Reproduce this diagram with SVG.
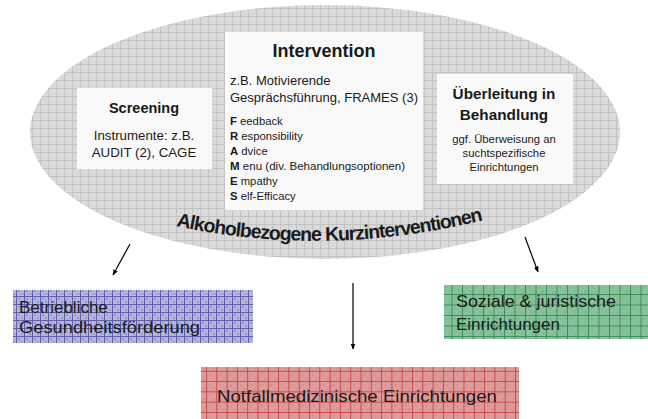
<svg xmlns="http://www.w3.org/2000/svg" width="648" height="419" viewBox="0 0 648 419">
<defs>
<pattern id="pGray" patternUnits="userSpaceOnUse" width="8" height="8">
<rect width="8" height="8" fill="#dadada"/>
<rect x="2" y="2" width="1" height="1" fill="#cfcfcf"/><rect x="5" y="5" width="1" height="1" fill="#cfcfcf"/>
<path d="M0 0.5H8M0.5 0V8" stroke="#c2c2c2" stroke-width="1"/>
</pattern>
<pattern id="pBlue" patternUnits="userSpaceOnUse" width="8" height="8">
<rect width="8" height="8" fill="#b4b4dd"/>
<rect x="2" y="2" width="2" height="2" fill="#9a9acc"/><rect x="5" y="5" width="2" height="2" fill="#9a9acc"/>
<path d="M0 0.5H8M0.5 0V8" stroke="#5e5eaa" stroke-width="1"/>
</pattern>
<pattern id="pGreen" patternUnits="userSpaceOnUse" width="10.5" height="10.5">
<rect width="10.5" height="10.5" fill="#86c39b"/>
<rect x="3" y="3" width="2" height="2" fill="#78b48d"/><rect x="7" y="7" width="2" height="2" fill="#78b48d"/>
<path d="M0 0.5H10.5M0.5 0V10.5" stroke="#3d8b5a" stroke-width="1"/>
</pattern>
<pattern id="pRed" patternUnits="userSpaceOnUse" width="10.3" height="10.3">
<rect width="10.3" height="10.3" fill="#e09b9b"/>
<rect x="3" y="3" width="2" height="2" fill="#d48b8b"/><rect x="7" y="7" width="2" height="2" fill="#d48b8b"/>
<path d="M0 0.5H10.3M0.5 0V10.3" stroke="#c24a4c" stroke-width="1"/>
</pattern>
<marker id="arr" viewBox="0 0 10 10" refX="9" refY="5" markerWidth="6" markerHeight="6" orient="auto" markerUnits="userSpaceOnUse">
<path d="M0 1L10 5L0 9Z" fill="#000"/>
</marker>
<path id="arc" d="M176 226 Q326 258 480 221"/>
</defs>
<style>
text{font-family:"Liberation Sans",Arial,sans-serif;fill:#1a1a1a}
.b{font-weight:bold}
.wbox{fill:#f9f9f9}
.conn{stroke:#000;stroke-width:1.2;fill:none;marker-end:url(#arr)}
</style>
<g id="ellipse">
<ellipse cx="325" cy="132" rx="295" ry="127" fill="url(#pGray)"/>
<text class="b" font-size="19.5" letter-spacing="-1.05"><textPath href="#arc">Alkoholbezogene Kurzinterventionen</textPath></text>
</g>
<g id="screening">
<rect class="wbox" x="77" y="88" width="135" height="81"/>
<text class="b" x="144" y="113" font-size="14.5" text-anchor="middle">Screening</text>
<text x="144" y="140" font-size="13.3" text-anchor="middle">Instrumente: z.B.</text>
<text x="144" y="157" font-size="13.3" text-anchor="middle">AUDIT (2), CAGE</text>
</g>
<g id="intervention">
<rect class="wbox" x="225" y="32" width="198" height="178"/>
<text class="b" x="324" y="57" font-size="18" text-anchor="middle">Intervention</text>
<text x="230" y="85" font-size="13">z.B. Motivierende</text>
<text x="230" y="102" font-size="13" textLength="188" lengthAdjust="spacingAndGlyphs">Gesprächsführung, FRAMES (3)</text>
<text x="230" y="125" font-size="11.3"><tspan class="b">F</tspan> eedback</text>
<text x="230" y="140" font-size="11.3"><tspan class="b">R</tspan> esponsibility</text>
<text x="230" y="155" font-size="11.3"><tspan class="b">A</tspan> dvice</text>
<text x="230" y="170" font-size="11.3" textLength="175" lengthAdjust="spacingAndGlyphs"><tspan class="b">M</tspan> enu (div. Behandlungsoptionen)</text>
<text x="230" y="185" font-size="11.3"><tspan class="b">E</tspan> mpathy</text>
<text x="230" y="200" font-size="11.3"><tspan class="b">S</tspan> elf-Efficacy</text>
</g>
<g id="ueberleitung">
<rect class="wbox" x="437" y="74" width="136" height="110"/>
<text class="b" x="504" y="99" font-size="15.3" text-anchor="middle">Überleitung in</text>
<text class="b" x="504" y="120" font-size="15.3" text-anchor="middle">Behandlung</text>
<text x="504" y="143" font-size="11.3" text-anchor="middle">ggf. Überweisung an</text>
<text x="504" y="157" font-size="11.3" text-anchor="middle">suchtspezifische</text>
<text x="504" y="171" font-size="11.3" text-anchor="middle">Einrichtungen</text>
</g>
<g id="betriebliche">
<rect x="13" y="290" width="240" height="53" fill="url(#pBlue)"/>
<text x="19" y="313" font-size="17">Betriebliche</text>
<text x="19" y="333" font-size="17" textLength="181" lengthAdjust="spacingAndGlyphs">Gesundheitsförderung</text>
</g>
<g id="soziale">
<rect x="444" y="285" width="204" height="54" fill="url(#pGreen)"/>
<text x="456" y="307" font-size="17" textLength="160" lengthAdjust="spacingAndGlyphs">Soziale &amp; juristische</text>
<text x="456" y="330" font-size="17">Einrichtungen</text>
</g>
<g id="notfall">
<rect x="201" y="367" width="318" height="52" fill="url(#pRed)"/>
<text x="217" y="402" font-size="17" textLength="280" lengthAdjust="spacingAndGlyphs">Notfallmedizinische Einrichtungen</text>
</g>
<g id="connectors">
<line class="conn" x1="130" y1="244" x2="113" y2="275"/>
<line class="conn" x1="353" y1="283" x2="353" y2="349"/>
<line class="conn" x1="525" y1="237" x2="538" y2="272"/>
</g>
</svg>
